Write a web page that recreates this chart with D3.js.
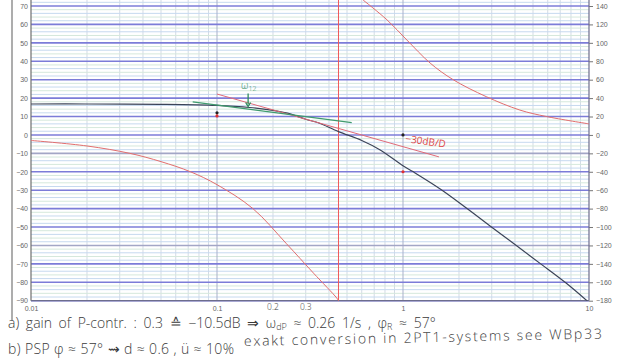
<!DOCTYPE html>
<html>
<head>
<meta charset="utf-8">
<script src="https://cdn.jsdelivr.net/npm/d3@7.9.0/dist/d3.min.js"></script>
<style>
  html, body { margin: 0; padding: 0; background: #fff; }
  svg { display: block; }
  .tick text { font-family: "Liberation Sans", Arial, sans-serif; font-size: 7px; fill: #666; }
  .hand { font-family: "Open Sans", "DejaVu Sans", sans-serif; font-weight: 300; fill: #3a3a3a; }
</style>
</head>
<body>
<svg id="chart" width="640" height="360"></svg>
<script>
// magnitude of the open loop (dB)
const omegaMag = [0.01, 0.02, 0.05, 0.1, 0.15, 0.2, 0.25, 0.3, 0.35, 0.45, 0.6, 0.75, 1, 1.13, 1.6, 2.2, 3, 4, 5.5, 7.5, 10];
const magDb = [16.8, 16.8, 16.6, 16.0, 14.9, 13.3, 11.3, 8.5, 6.6, 1.8, -3.0, -8.0, -16.7, -19.9, -29.6, -39.8, -50.1, -59.5, -70, -80.3, -91];

// phase (deg), lower branch down to -180
const omegaPhase = [0.01, 0.02, 0.034, 0.05, 0.072, 0.1, 0.156, 0.236, 0.33, 0.44, 0.45];
const phaseDeg = [-6, -12, -20, -29, -40, -54, -80, -118, -150, -177, -180];

// phase after wrapping (+360)
const omegaWrap = [0.61, 0.82, 1.05, 1.4, 1.86, 2.8, 4.25, 5.9, 10];
const phaseWrap = [146.5, 125, 103, 78, 60, 41.6, 27, 20, 12];

// hand drawn helper lines
const omegaTangent = [0.074, 0.53];
const dbTangent = [17.9, 6.7];
const omegaSlope = [0.1, 1.56];
const dbSlope = [22.2, -11.9];

const omegaCross = 0.45; // phase crossover (-180 deg)
const omega12 = 0.147;

// marked points
const dotOmega = [0.1, 0.1, 1, 1];
const dotDb = [12, 10.3, 0, -20];

const dbTicks = d3.range(-90, 71, 10);
const phaseTicks = d3.range(-180, 141, 20);
const freqTicks = [0.01, 0.1, 1, 10];
const handTicks = [0.2, 0.3];

const svg = d3.select('#chart');

// scales
const x = d3.scaleLog().domain([0.01, 10]).range([31, 589]);
const y = d3.scaleLinear().domain([-90, 70]).range([300.7, 6]);
const yPhase = d3.scaleLinear().domain([-180, 140]).range([300.7, 6]);

const pLeft = 31, pRight = 589, pTop = 0, pBottom = y(-90);

svg.append('clipPath').attr('id', 'plot')
  .append('rect').attr('x', pLeft).attr('y', pTop).attr('width', pRight - pLeft).attr('height', pBottom - pTop);

// page edge of the scanned sheet
svg.append('line').attr('x1', 12).attr('x2', 12).attr('y1', 0).attr('y2', 320)
  .attr('stroke', '#8a8a8a').attr('stroke-width', 1.4);

const grid = svg.append('g');

// vertical minor lines
let minor = [];
[0.01, 0.1, 1].forEach(dec => { for (let k = 2; k <= 9; k++) minor.push(dec * k); });
grid.selectAll('.vmin').data(minor).join('line')
  .attr('x1', d => x(d)).attr('x2', d => x(d)).attr('y1', pTop).attr('y2', pBottom)
  .attr('stroke', '#d3dbe5').attr('stroke-width', 1);

// thin horizontal lines every 2 dB
const thin = d3.range(-88, 73, 2).filter(d => d % 10 !== 0);
grid.selectAll('.hmin').data(thin).join('line')
  .attr('x1', pLeft).attr('x2', pRight).attr('y1', d => y(d)).attr('y2', d => y(d))
  .attr('stroke', (d, i) => i % 2 ? '#d5e8dc' : '#c6d9ef').attr('stroke-width', 1);

// decade lines
grid.selectAll('.vdec').data([0.1, 1]).join('line')
  .attr('x1', d => x(d)).attr('x2', d => x(d)).attr('y1', pTop).attr('y2', pBottom)
  .attr('stroke', '#a9b1cb').attr('stroke-width', 1);

// thick lines every 10 dB
grid.selectAll('.hmaj').data(dbTicks).join('line')
  .attr('x1', pLeft).attr('x2', pRight).attr('y1', d => y(d)).attr('y2', d => y(d))
  .attr('stroke', d => (d === -10 || d === -60) ? '#a3a6c6' : '#7c7cd8')
  .attr('stroke-width', 1.6);

// axes
const axL = svg.append('g').attr('transform', `translate(${pLeft},0)`)
  .call(d3.axisLeft(y).tickValues(dbTicks).tickSize(0).tickPadding(3));
axL.select('.domain').remove();
const axR = svg.append('g').attr('transform', `translate(${pRight},0)`)
  .call(d3.axisRight(yPhase).tickValues(phaseTicks).tickSize(4).tickPadding(3));
axR.select('.domain').remove();
axR.selectAll('.tick line').attr('stroke', '#777');
const axB = svg.append('g').attr('transform', `translate(0,${pBottom})`)
  .call(d3.axisBottom(x).tickValues(freqTicks).tickFormat(d3.format('~g')).tickSize(0).tickPadding(5));
axB.select('.domain').remove();

svg.append('line').attr('x1', pLeft).attr('x2', pLeft).attr('y1', pTop).attr('y2', pBottom)
  .attr('stroke', '#6f6f6f').attr('stroke-width', 1.2);
svg.append('line').attr('x1', pRight).attr('x2', pRight).attr('y1', pTop).attr('y2', pBottom)
  .attr('stroke', '#6d6d8d').attr('stroke-width', 1.2);
svg.append('line').attr('x1', pLeft).attr('x2', pRight).attr('y1', pBottom).attr('y2', pBottom)
  .attr('stroke', '#6d6d8d').attr('stroke-width', 1.2);

const plot = svg.append('g').attr('clip-path', 'url(#plot)');

const lineDb = d3.line().x(d => x(d[0])).y(d => y(d[1])).curve(d3.curveCatmullRom);
const linePh = d3.line().x(d => x(d[0])).y(d => yPhase(d[1])).curve(d3.curveCatmullRom);

// crossover
plot.append('line').attr('x1', x(omegaCross)).attr('x2', x(omegaCross)).attr('y1', pTop).attr('y2', pBottom)
  .attr('stroke', '#f05a5a').attr('stroke-width', 1);

plot.append('path').datum(d3.zip(omegaPhase, phaseDeg)).attr('d', linePh)
  .attr('fill', 'none').attr('stroke', '#e26e6e').attr('stroke-width', 1);
plot.append('path').datum(d3.zip(omegaWrap, phaseWrap)).attr('d', linePh)
  .attr('fill', 'none').attr('stroke', '#e26e6e').attr('stroke-width', 1);

plot.append('path').datum(d3.zip(omegaMag, magDb)).attr('d', lineDb)
  .attr('fill', 'none').attr('stroke', '#3c4458').attr('stroke-width', 1.2);

plot.append('path').datum(d3.zip(omegaSlope, dbSlope)).attr('d', lineDb)
  .attr('fill', 'none').attr('stroke', '#e06a78').attr('stroke-width', 1);
plot.append('path').datum(d3.zip(omegaTangent, dbTangent)).attr('d', lineDb)
  .attr('fill', 'none').attr('stroke', '#3f9b6e').attr('stroke-width', 1.2);

const dotColors = ['#222', '#e03030', '#222', '#e03030'];
plot.selectAll('.dot').data(d3.zip(dotOmega, dotDb)).join('circle')
  .attr('cx', d => x(d[0])).attr('cy', d => y(d[1])).attr('r', 1.6)
  .attr('fill', (d, i) => dotColors[i]);

// w12 arrow
const green = '#2f8d5c';
svg.append('line').attr('x1', x(omega12)).attr('x2', x(omega12)).attr('y1', y(22.5)).attr('y2', y(16.5))
  .attr('stroke', green).attr('stroke-width', 1.3);
svg.append('path')
  .attr('d', `M${x(omega12) - 2.5},${y(17.6)} L${x(omega12)},${y(15.4)} L${x(omega12) + 2.5},${y(17.6)}`)
  .attr('fill', 'none').attr('stroke', green).attr('stroke-width', 1.3);
const w12 = svg.append('text').attr('class', 'hand').attr('x', x(omega12) - 7).attr('y', y(24.8))
  .style('fill', green).attr('font-size', 10);
w12.append('tspan').text('ω');
w12.append('tspan').attr('font-size', 7).attr('dy', 2).text('12');

// slope label
svg.append('text').attr('class', 'hand')
  .attr('transform', `translate(${x(1) + 2},${y(-3.8)}) rotate(8)`)
  .style('fill', '#e04a4a').style('font-weight', 400).attr('font-size', 10).text('−30dB/D');

// hand written frequency marks
svg.selectAll('.htick').data(handTicks).join('text').attr('class', 'hand')
  .attr('x', d => x(d)).attr('y', 310).attr('text-anchor', 'middle').attr('font-size', 8.5)
  .text(d => d3.format('~g')(d));

// notes below the chart
const l1 = svg.append('text').attr('class', 'hand').attr('x', 8).attr('y', 328)
  .attr('font-size', 14).attr('word-spacing', 3);
l1.append('tspan').text('a) gain of P-contr. :  0.3 ≙ −10.5dB   ⇒ ω');
l1.append('tspan').attr('font-size', 9).attr('dy', 2).text('dP');
l1.append('tspan').attr('dy', -2).text(' ≈ 0.26 1/s ,  φ');
l1.append('tspan').attr('font-size', 9).attr('dy', 2).text('R');
l1.append('tspan').attr('dy', -2).text(' ≈ 57°');

svg.append('text').attr('class', 'hand').attr('x', 8).attr('y', 354).attr('font-size', 14)
  .attr('textLength', 226).attr('lengthAdjust', 'spacing')
  .text('b)  PSP    φ ≈ 57°  ⇝ d ≈ 0.6 ,  ü ≈ 10%');
svg.append('text').attr('class', 'hand').attr('x', 244).attr('y', 346).attr('font-size', 14)
  .attr('transform', 'rotate(-1.2 244 346)')
  .attr('textLength', 358).attr('lengthAdjust', 'spacing')
  .text('exakt conversion in 2PT1-systems see WBp33');
</script>
</body>
</html>
